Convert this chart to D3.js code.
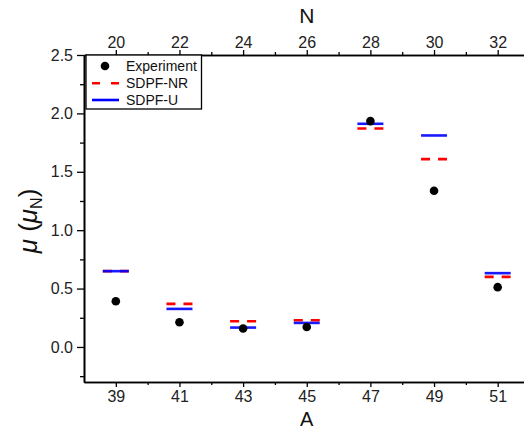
<!DOCTYPE html>
<html>
<head>
<meta charset="utf-8">
<script src="https://cdn.jsdelivr.net/npm/d3@7"></script>
<style>
  html, body { margin: 0; padding: 0; background: #fff; }
  svg { display: block; font-family: "Liberation Sans", Arial, sans-serif; }
</style>
</head>
<body>
<svg id="chart" width="524" height="432"></svg>
<script>
// Magnetic moments of odd-A isotopes vs. mass number A (neutron number N on top)
const massNumbers = [39, 41, 43, 45, 47, 49, 51];
const experiment  = [0.392, 0.212, 0.158, 0.171, 1.934, 1.337, 0.512];
const sdpfNR      = [0.649, 0.369, 0.220, 0.229, 1.871, 1.608, 0.600];
const sdpfU       = [0.649, 0.326, 0.166, 0.206, 1.911, 1.811, 0.632];
const yTicks      = [0.0, 0.5, 1.0, 1.5, 2.0, 2.5];
const yMinorTicks = [-0.25, 0.25, 0.75, 1.25, 1.75, 2.25];
const nTicks      = [20, 22, 24, 26, 28, 30, 32];
const legendNames = ["Experiment", "SDPF-NR", "SDPF-U"];

const svg = d3.select("#chart");
const plotLeft = 84, plotTop = 55, plotBottom = 382, plotRight = 529.5;

const x = d3.scaleLinear().domain([38, 52]).range([plotLeft, plotRight]);
const y = d3.scaleLinear().domain([-0.3, 2.5]).range([plotBottom, plotTop]);
const xN = d3.scaleLinear().domain([38 - 19, 52 - 19]).range([plotLeft, plotRight]);

const fmt = d3.format(".1f");

function styleAxis(g) {
  g.selectAll(".domain").attr("stroke", "#000").attr("stroke-width", 1.6);
  g.selectAll(".tick line").attr("stroke", "#000").attr("stroke-width", 1.3);
  g.selectAll(".tick text").attr("fill", "#222").attr("font-size", 16)
    .attr("font-family", "Liberation Sans, Arial, sans-serif");
}

// Left axis
svg.append("g").attr("transform", `translate(${plotLeft},0)`)
  .call(d3.axisLeft(y).tickValues(yTicks).tickFormat(fmt).tickSize(7).tickSizeOuter(0).tickPadding(4))
  .call(styleAxis);
svg.append("g").attr("transform", `translate(${plotLeft},0)`)
  .call(d3.axisLeft(y).tickValues(yMinorTicks).tickFormat("").tickSize(4).tickSizeOuter(0))
  .call(styleAxis);

// Bottom axis (A)
svg.append("g").attr("transform", `translate(0,${plotBottom})`)
  .call(d3.axisBottom(x).tickValues(massNumbers).tickFormat(d3.format("d")).tickSize(5).tickSizeOuter(0).tickPadding(4))
  .call(styleAxis);
svg.append("g").attr("transform", `translate(0,${plotBottom})`)
  .call(d3.axisBottom(x).tickValues(massNumbers.map(d => d + 1)).tickFormat("").tickSize(3).tickSizeOuter(0))
  .call(styleAxis);

// Top axis (N)
svg.append("g").attr("transform", `translate(0,${plotTop})`)
  .call(d3.axisTop(xN).tickValues(nTicks).tickFormat(d3.format("d")).tickSize(5).tickSizeOuter(0).tickPadding(2))
  .call(styleAxis);
svg.append("g").attr("transform", `translate(0,${plotTop})`)
  .call(d3.axisTop(xN).tickValues(nTicks.map(d => d + 1)).tickFormat("").tickSize(3).tickSizeOuter(0))
  .call(styleAxis);

// Axis titles
svg.append("text").attr("x", x(45)).attr("y", 23).attr("text-anchor", "middle")
  .attr("font-size", 21).attr("fill", "#111").text("N");
svg.append("text").attr("x", x(45)).attr("y", 426).attr("text-anchor", "middle")
  .attr("font-size", 20).attr("fill", "#111").text("A");

const yt = svg.append("text")
  .attr("transform", `translate(37,221) rotate(-90)`)
  .attr("text-anchor", "middle").attr("font-size", 26).attr("fill", "#111");
yt.append("tspan").attr("font-style", "italic").text("μ");
yt.append("tspan").text(" (");
yt.append("tspan").attr("font-style", "italic").text("μ");
yt.append("tspan").attr("font-size", 16).attr("dy", 5).text("N");
yt.append("tspan").attr("dy", -5).text(")");

// Theory bars
const halfW = 13;
const plot = svg.append("g");

plot.selectAll("line.nr").data(massNumbers).join("line")
  .attr("class", "nr")
  .attr("x1", d => x(d) - halfW).attr("x2", d => x(d) + halfW)
  .attr("y1", (d, i) => y(sdpfNR[i])).attr("y2", (d, i) => y(sdpfNR[i]))
  .attr("stroke", "#ff0000").attr("stroke-width", 2.6)
  .attr("stroke-dasharray", "9,8");

plot.selectAll("line.u").data(massNumbers).join("line")
  .attr("class", "u")
  .attr("x1", d => x(d) - halfW).attr("x2", d => x(d) + halfW)
  .attr("y1", (d, i) => y(sdpfU[i])).attr("y2", (d, i) => y(sdpfU[i]))
  .attr("stroke", "#0000ff").attr("stroke-width", 2.6)
  .attr("stroke-opacity", 0.9);

// Experimental points
plot.selectAll("circle.exp").data(massNumbers).join("circle")
  .attr("class", "exp")
  .attr("cx", d => x(d)).attr("cy", (d, i) => y(experiment[i]))
  .attr("r", 4.3).attr("fill", "#000");

// Legend
const lg = svg.append("g");
lg.append("rect").attr("x", 86).attr("y", 55).attr("width", 115.5).attr("height", 54)
  .attr("fill", "#fff").attr("stroke", "#000").attr("stroke-width", 1.3);
const rowY = [66, 83.3, 100];
lg.append("circle").attr("cx", 105).attr("cy", rowY[0]).attr("r", 4.3).attr("fill", "#000");
lg.append("line").attr("x1", 92).attr("x2", 119).attr("y1", rowY[1]).attr("y2", rowY[1])
  .attr("stroke", "#ff0000").attr("stroke-width", 2.6).attr("stroke-dasharray", "8,11");
lg.append("line").attr("x1", 92).attr("x2", 119).attr("y1", rowY[2]).attr("y2", rowY[2])
  .attr("stroke", "#0000ff").attr("stroke-width", 2.6);
lg.selectAll("text.lt").data(legendNames).join("text")
  .attr("class", "lt")
  .attr("x", 126).attr("y", (d, i) => rowY[i] + 5)
  .attr("font-size", 14).attr("fill", "#111").text(d => d);
</script>
</body>
</html>
